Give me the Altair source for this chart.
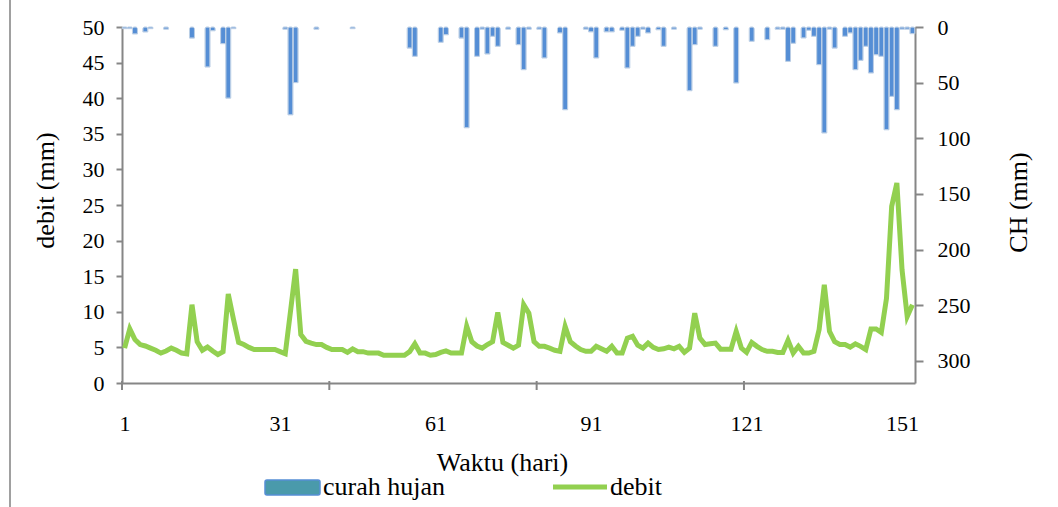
import altair as alt
import pandas as pd

# Daily series, day 1..153
days = list(range(1, 154))

# debit (mm) per day
debit = [
    4.9, 7.6, 6.1, 5.4, 5.2, 4.9, 4.6, 4.2, 4.5, 4.9,
    4.6, 4.2, 4.1, 11.0, 5.8, 4.6, 5.05, 4.5, 4.0, 4.4,
    12.5, 9.0, 5.7, 5.4, 5.0, 4.7, 4.7, 4.7, 4.7, 4.7,
    4.4, 4.1, 10.0, 16.0, 6.8, 5.85, 5.6, 5.4, 5.4, 5.0,
    4.7, 4.7, 4.7, 4.3, 4.8, 4.4, 4.4, 4.2, 4.2, 4.2,
    3.9, 3.9, 3.9, 3.9, 3.9, 4.4, 5.5, 4.2, 4.2, 3.9,
    4.0, 4.3, 4.5, 4.2, 4.2, 4.2, 8.0, 5.8, 5.2, 4.9,
    5.4, 5.8, 9.9, 5.7, 5.3, 4.9, 5.3, 11.0, 9.8, 5.8,
    5.15, 5.15, 4.9, 4.6, 4.45, 7.95, 5.8, 5.2, 4.7, 4.45,
    4.45, 5.15, 4.8, 4.45, 5.15, 4.2, 4.2, 6.3, 6.55, 5.3,
    4.9, 5.6, 5.0, 4.7, 4.8, 5.05, 4.8, 5.15, 4.3, 4.9,
    9.8, 6.3, 5.4, 5.5, 5.6, 4.75, 4.75, 4.75, 7.25, 4.9,
    4.3, 5.7, 5.15, 4.7, 4.45, 4.45, 4.3, 4.3, 6.0, 4.2,
    5.15, 4.2, 4.2, 4.45, 7.5, 13.8, 7.25, 5.8, 5.4, 5.4,
    5.05, 5.5, 5.15, 4.7, 7.6, 7.6, 7.1, 11.9, 24.8, 28.1,
    15.9, 9.35, 11.0,
]

# curah hujan (mm) per rainy day
rain_days = [
    1, 2, 3, 5, 6, 9, 14, 17, 18, 20, 21, 22, 32, 33, 34, 38, 45,
    56, 57, 62, 63, 66, 67, 69, 70, 71, 72, 73, 75, 77, 78, 79, 81, 82,
    85, 86, 90, 91, 92, 94, 95, 97, 98, 99, 100, 101, 102, 104, 105, 107,
    110, 111, 112, 115, 117, 119, 122, 125, 127, 128, 129, 130, 132, 133,
    134, 135, 136, 137, 138, 140, 141, 142, 143, 144, 145, 146, 147, 148,
    149, 150, 151, 152, 153,
]
rain_mm = [
    1.5, 1.5, 6.3, 4.5, 1.5, 2.0, 10.0, 36.0, 3.4, 15.0, 64.0, 1.5, 2.0, 79.0, 50.0, 2.0, 1.5,
    19.0, 26.4, 13.8, 7.0, 10.0, 90.6, 26.4, 2.0, 24.3, 8.4, 17.4, 2.0, 15.9, 38.4, 2.0, 2.0, 27.9,
    5.4, 74.4, 2.0, 4.4, 27.9, 4.4, 4.4, 3.0, 36.9, 17.4, 8.4, 2.0, 5.4, 2.5, 17.4, 2.0,
    57.3, 15.9, 2.0, 17.4, 2.5, 50.4, 12.9, 11.4, 2.0, 2.0, 30.9, 14.7, 9.9, 3.0,
    8.4, 33.9, 95.3, 2.0, 19.0, 8.4, 5.4, 38.4, 30.0, 17.4, 41.4, 25.0, 26.4, 92.4,
    62.4, 74.4, 2.0, 2.0, 6.0,
]

x_labels = [1, 31, 61, 91, 121, 151]
x_tick_marks = [0.5, 40.5, 80.5, 120.5]
left_ticks = list(range(0, 55, 5))
right_ticks = list(range(0, 350, 50))

W, H = 793, 356
FONT = "Liberation Serif"
AXIS_GREY = "#868686"

line_df = pd.DataFrame({"hari": days, "debit": debit})
rain_df = pd.DataFrame({"hari": rain_days, "ch": rain_mm})
tick_df = pd.DataFrame({"hari": x_tick_marks})

x_scale = alt.Scale(domain=[0.5, 153.5], nice=False, zero=False, padding=0)

x_axis = alt.Axis(
    values=x_labels, ticks=False, grid=False, domainColor=AXIS_GREY, domainWidth=2,
    labelFont=FONT, labelFontSize=22, labelColor="black", labelPadding=30,
    title="Waktu (hari)", titleFont=FONT, titleFontSize=26, titleFontWeight="normal",
    titleColor="black", titleX=380, titleY=79, titleBaseline="middle", titleAlign="center",
)

bars = alt.Chart(rain_df).mark_bar(
    size=5, color="#558ED5", stroke="#B9CDE5", strokeWidth=1,
    cornerRadiusEnd=2,
).encode(
    x=alt.X("hari:Q", scale=x_scale, axis=x_axis),
    y=alt.Y(
        "ch:Q",
        scale=alt.Scale(domain=[0, 320], reverse=True, nice=False),
        axis=alt.Axis(
            orient="right", values=right_ticks, grid=False, domainColor=AXIS_GREY, domainWidth=2,
            tickColor=AXIS_GREY, tickSize=8, tickWidth=2, labelFont=FONT, labelFontSize=22,
            labelColor="black", labelPadding=14,
            title="CH (mm)", titleFont=FONT, titleFontSize=26, titleFontWeight="normal",
            titleColor="black", titleAngle=-90, titleX=103, titleY=175,
            titleBaseline="middle", titleAlign="center",
        ),
    ),
)

line = alt.Chart(line_df).mark_line(color="#92D050", strokeWidth=5, strokeJoin="miter").encode(
    x=alt.X("hari:Q", scale=x_scale, axis=x_axis),
    y=alt.Y(
        "debit:Q",
        scale=alt.Scale(domain=[0, 50], nice=False),
        axis=alt.Axis(
            orient="left", values=left_ticks, grid=False, domainColor=AXIS_GREY, domainWidth=2,
            tickColor=AXIS_GREY, tickSize=6, tickWidth=2, labelFont=FONT, labelFontSize=22,
            labelColor="black", labelPadding=12,
            title="debit (mm)", titleFont=FONT, titleFontSize=26, titleFontWeight="normal",
            titleColor="black", titleAngle=-90, titleX=-77, titleY=163,
            titleBaseline="middle", titleAlign="center",
        ),
    ),
)

# category-axis tick marks below the x axis
xticks = alt.Chart(tick_df).mark_rule(color=AXIS_GREY, strokeWidth=2).encode(
    x=alt.X("hari:Q", scale=x_scale, axis=x_axis),
    y=alt.value(H - 2),
    y2=alt.value(H + 7),
)

# legend entries and outer frame line
legend_items = pd.DataFrame({"k": [0]})
swatch = alt.Chart(legend_items).mark_rect(
    color="#4A9AAB", stroke="#558ED5", strokeWidth=1.5, cornerRadius=2
).encode(x=alt.value(143), x2=alt.value(198), y=alt.value(453), y2=alt.value(468))
swatch_text = alt.Chart(legend_items).mark_text(
    text="curah hujan", font=FONT, fontSize=26, align="left", baseline="middle", color="black"
).encode(x=alt.value(201), y=alt.value(460))
leg_line = alt.Chart(legend_items).mark_rule(color="#92D050", strokeWidth=5).encode(
    x=alt.value(431), x2=alt.value(485), y=alt.value(460)
)
leg_line_text = alt.Chart(legend_items).mark_text(
    text="debit", font=FONT, fontSize=26, align="left", baseline="middle", color="black"
).encode(x=alt.value(488), y=alt.value(460))
frame = alt.Chart(legend_items).mark_rule(color="#A0A0A0", strokeWidth=2).encode(
    x=alt.value(-112), y=alt.value(-27), y2=alt.value(480)
)

chart = alt.layer(bars, line, xticks, swatch, swatch_text, leg_line, leg_line_text, frame).resolve_scale(
    y="independent"
).properties(
    width=W, height=H,
    padding={"left": 122, "top": 27, "right": 143, "bottom": 124},
    autosize=alt.AutoSizeParams(type="none"),
    background="white",
).configure_view(stroke=None)

chart.save("out.html", embed_options={"renderer": "svg", "actions": False})
